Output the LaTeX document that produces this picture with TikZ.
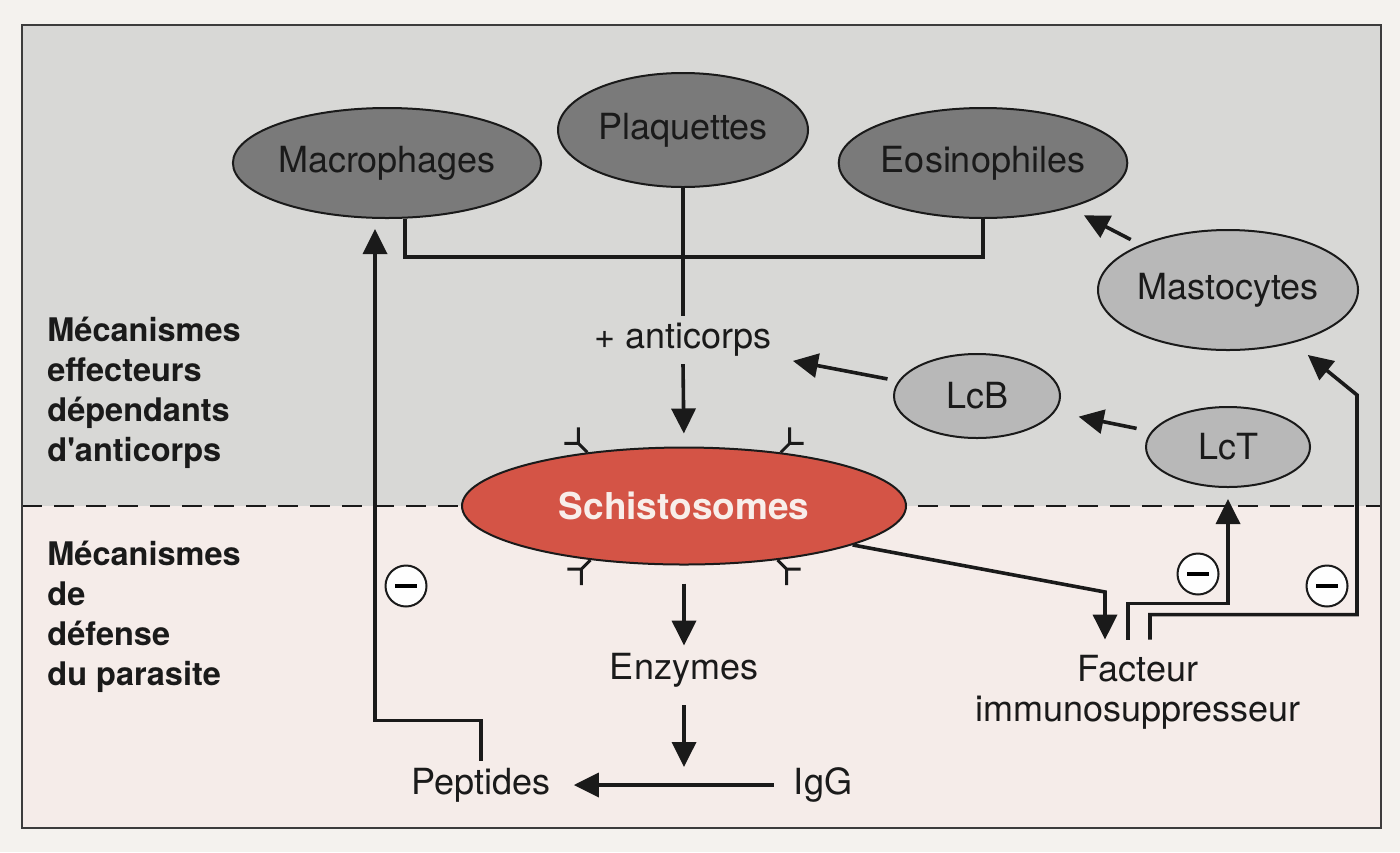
\documentclass[tikz,border=0pt]{standalone}
\usepackage{fontspec}
\setmainfont{TeX Gyre Heros}[Ligatures=TeXOff]
\usetikzlibrary{arrows.meta,shapes.geometric}
\definecolor{outerbg}{RGB}{244,242,238}
\definecolor{topbg}{RGB}{216,216,214}
\definecolor{botbg}{RGB}{245,236,233}
\definecolor{darkcell}{RGB}{122,122,122}
\definecolor{lightcell}{RGB}{184,184,184}
\definecolor{schred}{RGB}{212,84,70}
\definecolor{ink}{RGB}{26,26,26}
\definecolor{schtext}{RGB}{248,238,234}
\begin{document}
\begin{tikzpicture}[x=0.5pt,y=-0.5pt,
  cell/.style={ellipse,draw=ink,line width=1pt,inner sep=0pt,font=\fontsize{18}{21}\selectfont,text=ink},
  cdark/.style={cell,fill=darkcell},
  clight/.style={cell,fill=lightcell},
  lbl/.style={inner sep=3.5pt,font=\fontsize{18}{21}\selectfont,text=ink},
  side/.style={anchor=west,align=left,inner sep=0pt,font=\fontsize{16.25}{20}\selectfont\bfseries,text=ink},
  conn/.style={draw=ink,line width=1.8pt},
  arr/.style={conn,-{Triangle[length=12.5pt,width=12pt]}},
  minus/.style={circle,draw=ink,line width=1pt,fill=white!92!outerbg,minimum size=20.5pt,inner sep=0pt},
  ab/.style={draw=ink,line width=1.5pt},
  sep/.style={draw=ink,line width=1pt,dash pattern=on 10pt off 6pt},
  frame/.style={draw=ink!85,line width=1pt}
]
% backgrounds
\fill[outerbg] (0,0) rectangle (1400,852);
\fill[topbg] (22,25) rectangle (1381,506);
\fill[botbg] (22,506) rectangle (1381,828);
\draw[sep] (22,506) -- (1381,506);
\draw[frame] (22,25) rectangle (1381,828);

% cells
\node[cdark,minimum width=140pt,minimum height=55pt] (mac) at (387,163) {Macrophages};
\node[cdark,minimum width=125pt,minimum height=57pt] (pla) at (683,130) {Plaquettes};
\node[cdark,minimum width=142pt,minimum height=55pt] (eos) at (983,163) {Eosinophiles};
\node[clight,minimum width=130pt,minimum height=60pt] (mas) at (1228,290) {Mastocytes};
\node[clight,minimum width=83pt,minimum height=42pt] (lcb) at (977,396) {LcB};
\node[clight,minimum width=82pt,minimum height=40pt] (lct) at (1228,447) {LcT};
\node[cell,fill=schred,minimum width=222pt,minimum height=58.5pt,text=schtext,font=\fontsize{18.5}{21}\selectfont\bfseries] (sch) at (684,506) {Schistosomes};

% text labels
\node[lbl] (anti) at (683,340) {+ anticorps};
\node[lbl] (enz) at (684,670) {Enzymes};
\node[lbl] (pep) at (481,785) {Peptides};
\node[lbl] (igg) at (823,785) {IgG};
\node[lbl,align=center,inner xsep=0pt,inner ysep=7.5pt,font=\fontsize{18}{20}\selectfont] (fac) at (1138,692) {Facteur\\immunosuppresseur};

\node[side] (lab1) at (47,393) {Mécanismes\\effecteurs\\dépendants\\d'anticorps};
\node[side] (lab2) at (47,617) {Mécanismes\\de\\défense\\du parasite};

% minus signs
\node[minus] (m1) at (406,586) {\rule{11pt}{1.7pt}};
\node[minus] (m2) at (1198,574) {\rule{11pt}{1.7pt}};
\node[minus] (m3) at (1327,586) {\rule{11pt}{1.7pt}};

% antibodies on the schistosome
\draw[ab] (sch.151) -- ++(-9,-9) -- ++(0,-16) ++(0,16) -- ++(-14,0);
\draw[ab] (sch.29) -- ++(9,-9) -- ++(0,-16) ++(0,16) -- ++(14,0);
\draw[ab] (sch.210) -- ++(-9,9) -- ++(0,16) ++(0,-16) -- ++(-14,0);
\draw[ab] (sch.-30) -- ++(9,9) -- ++(0,16) ++(0,-16) -- ++(14,0);

% connectors
\coordinate (br) at (683,257);
\draw[conn] ([xshift=9pt]mac.south) |- (br) -| (eos.south);
\draw[conn] (pla.south) -- (anti.north);
\draw[arr,shorten >=6.5pt] (anti.south) -- (sch.north);
\draw[arr,shorten <=5.5pt,shorten >=7pt] (lcb) -- (anti);
\draw[arr,shorten <=7.5pt,shorten >=12pt] (lct) -- (lcb);
\draw[arr,shorten <=5.5pt,shorten >=8pt] (mas) -- (eos);

\coordinate (c2) at (1357,395);
\draw[arr,shorten >=9.5pt] ([xshift=6pt]fac.north) -- ++(0,-25) -| (c2) -- (mas);
\draw[arr,shorten >=5.5pt] ([xshift=-5pt]fac.north) -- ++(0,-36) -| (lct.south);

\coordinate (c4) at (1105,592);
\draw[arr] (sch.-13) -- (c4) -- (c4 |- fac.north);

\draw[arr,shorten <=9pt] (sch.south) -- (enz.north);
\coordinate (j) at (684,787);
\draw[arr,shorten <=5.5pt,shorten >=10pt] (enz.south) -- (j);
\draw[arr,shorten <=6.5pt,shorten >=8pt] (igg) -- (pep);
\draw[arr,shorten >=5pt] (pep.north) -- ++(0,-40) -| ([xshift=-6pt]mac.south);
\end{tikzpicture}
\end{document}
